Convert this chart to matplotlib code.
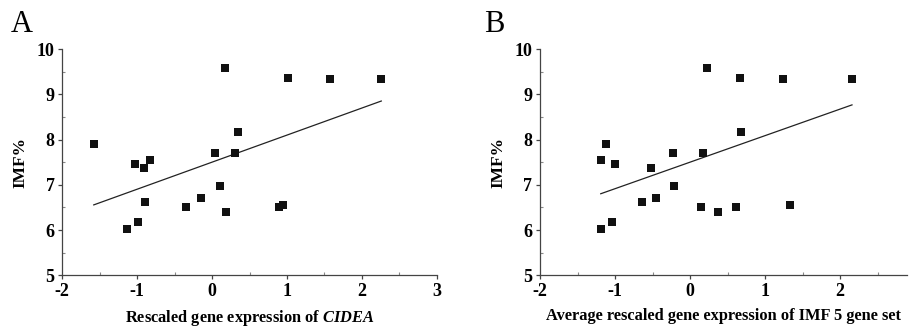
import numpy as np
import matplotlib
matplotlib.use('Agg')
import matplotlib.pyplot as plt
from matplotlib.ticker import MultipleLocator

plt.rcParams['font.family'] = ['Liberation Serif', 'DejaVu Serif']
plt.rcParams['axes.unicode_minus'] = False
plt.rcParams['mathtext.fontset'] = 'custom'
plt.rcParams['mathtext.bfit'] = 'Liberation Serif:bold:italic'
plt.rcParams['mathtext.it'] = 'Liberation Serif:italic'

# Panel A: rescaled CIDEA expression vs IMF%
cidea_x = [-1.58, -1.03, -0.91, -0.83, -0.90, -1.14, -0.99, -0.35, -0.15, 0.04,
           0.11, 0.18, 0.17, 0.31, 0.35, 0.89, 0.95, 1.01, 1.58, 2.26]
cidea_imf = [7.91, 7.46, 7.38, 7.55, 6.61, 6.03, 6.17, 6.50, 6.71, 7.71,
             6.98, 6.40, 9.57, 7.71, 8.17, 6.52, 6.55, 9.37, 9.34, 9.34]

# Panel B: average rescaled expression of the IMF 5 gene set vs IMF%
set5_x = [-1.19, -1.12, -1.00, -1.19, -1.04, -0.64, -0.52, -0.46, -0.23, -0.22,
          0.15, 0.17, 0.23, 0.37, 0.61, 0.66, 0.68, 1.24, 1.33, 2.16]
set5_imf = [7.55, 7.91, 7.46, 6.03, 6.17, 6.61, 7.38, 6.71, 7.71, 6.98,
            6.50, 7.71, 9.57, 6.40, 6.52, 9.37, 8.17, 9.34, 6.55, 9.34]

W, H = 909, 328
fig = plt.figure(figsize=(W / 100, H / 100), dpi=100)


def panel(rect, xs, ys, xlim, xticks, xlabel, letter, letter_xy):
    ax = fig.add_axes(rect)
    ax.scatter(xs, ys, marker='s', s=26, color='#111111', linewidths=0, zorder=3)
    k, b = np.polyfit(xs, ys, 1)
    lx = np.array([min(xs), max(xs)])
    ax.plot(lx, k * lx + b, color='#222222', lw=0.9)
    ax.set_xlim(*xlim)
    ax.set_ylim(5, 10)
    ax.set_xticks(xticks)
    ax.set_yticks([5, 6, 7, 8, 9, 10])
    ax.xaxis.set_minor_locator(MultipleLocator(0.5))
    ax.yaxis.set_minor_locator(MultipleLocator(0.5))
    for s in ['top', 'right']:
        ax.spines[s].set_visible(False)
    for s in ['left', 'bottom']:
        ax.spines[s].set_color('#444444')
        ax.spines[s].set_linewidth(0.9)
    ax.tick_params(which='major', direction='out', length=3, width=0.9,
                   color='#444444', labelsize=13, pad=2.5)
    ax.tick_params(which='minor', direction='in', length=2.5, width=0.8,
                   color='#888888')
    for lab in ax.get_xticklabels() + ax.get_yticklabels():
        lab.set_fontweight('bold')
    ax.set_xlabel(xlabel, fontsize=11.8, fontweight='bold', labelpad=6)
    ax.set_ylabel('IMF%', fontsize=12.5, fontweight='bold', labelpad=6)
    fig.text(letter_xy[0] / W, 1 - letter_xy[1] / H, letter, fontsize=22,
             ha='left', va='bottom')
    return ax


panel([62.3 / W, 1 - 275.3 / H, 374.4 / W, 226.3 / H], cidea_x, cidea_imf,
      (-2, 3), [-2, -1, 0, 1, 2, 3],
      r'Rescaled gene expression of $\mathbfit{CIDEA}$', 'A', (11, 39))
panel([540 / W, 1 - 275.3 / H, 367.5 / W, 226.3 / H], set5_x, set5_imf,
      (-2, 2.9), [-2, -1, 0, 1, 2],
      'Average rescaled gene expression of IMF 5 gene set', 'B', (484, 39))

fig.savefig('out.png', dpi=100)
